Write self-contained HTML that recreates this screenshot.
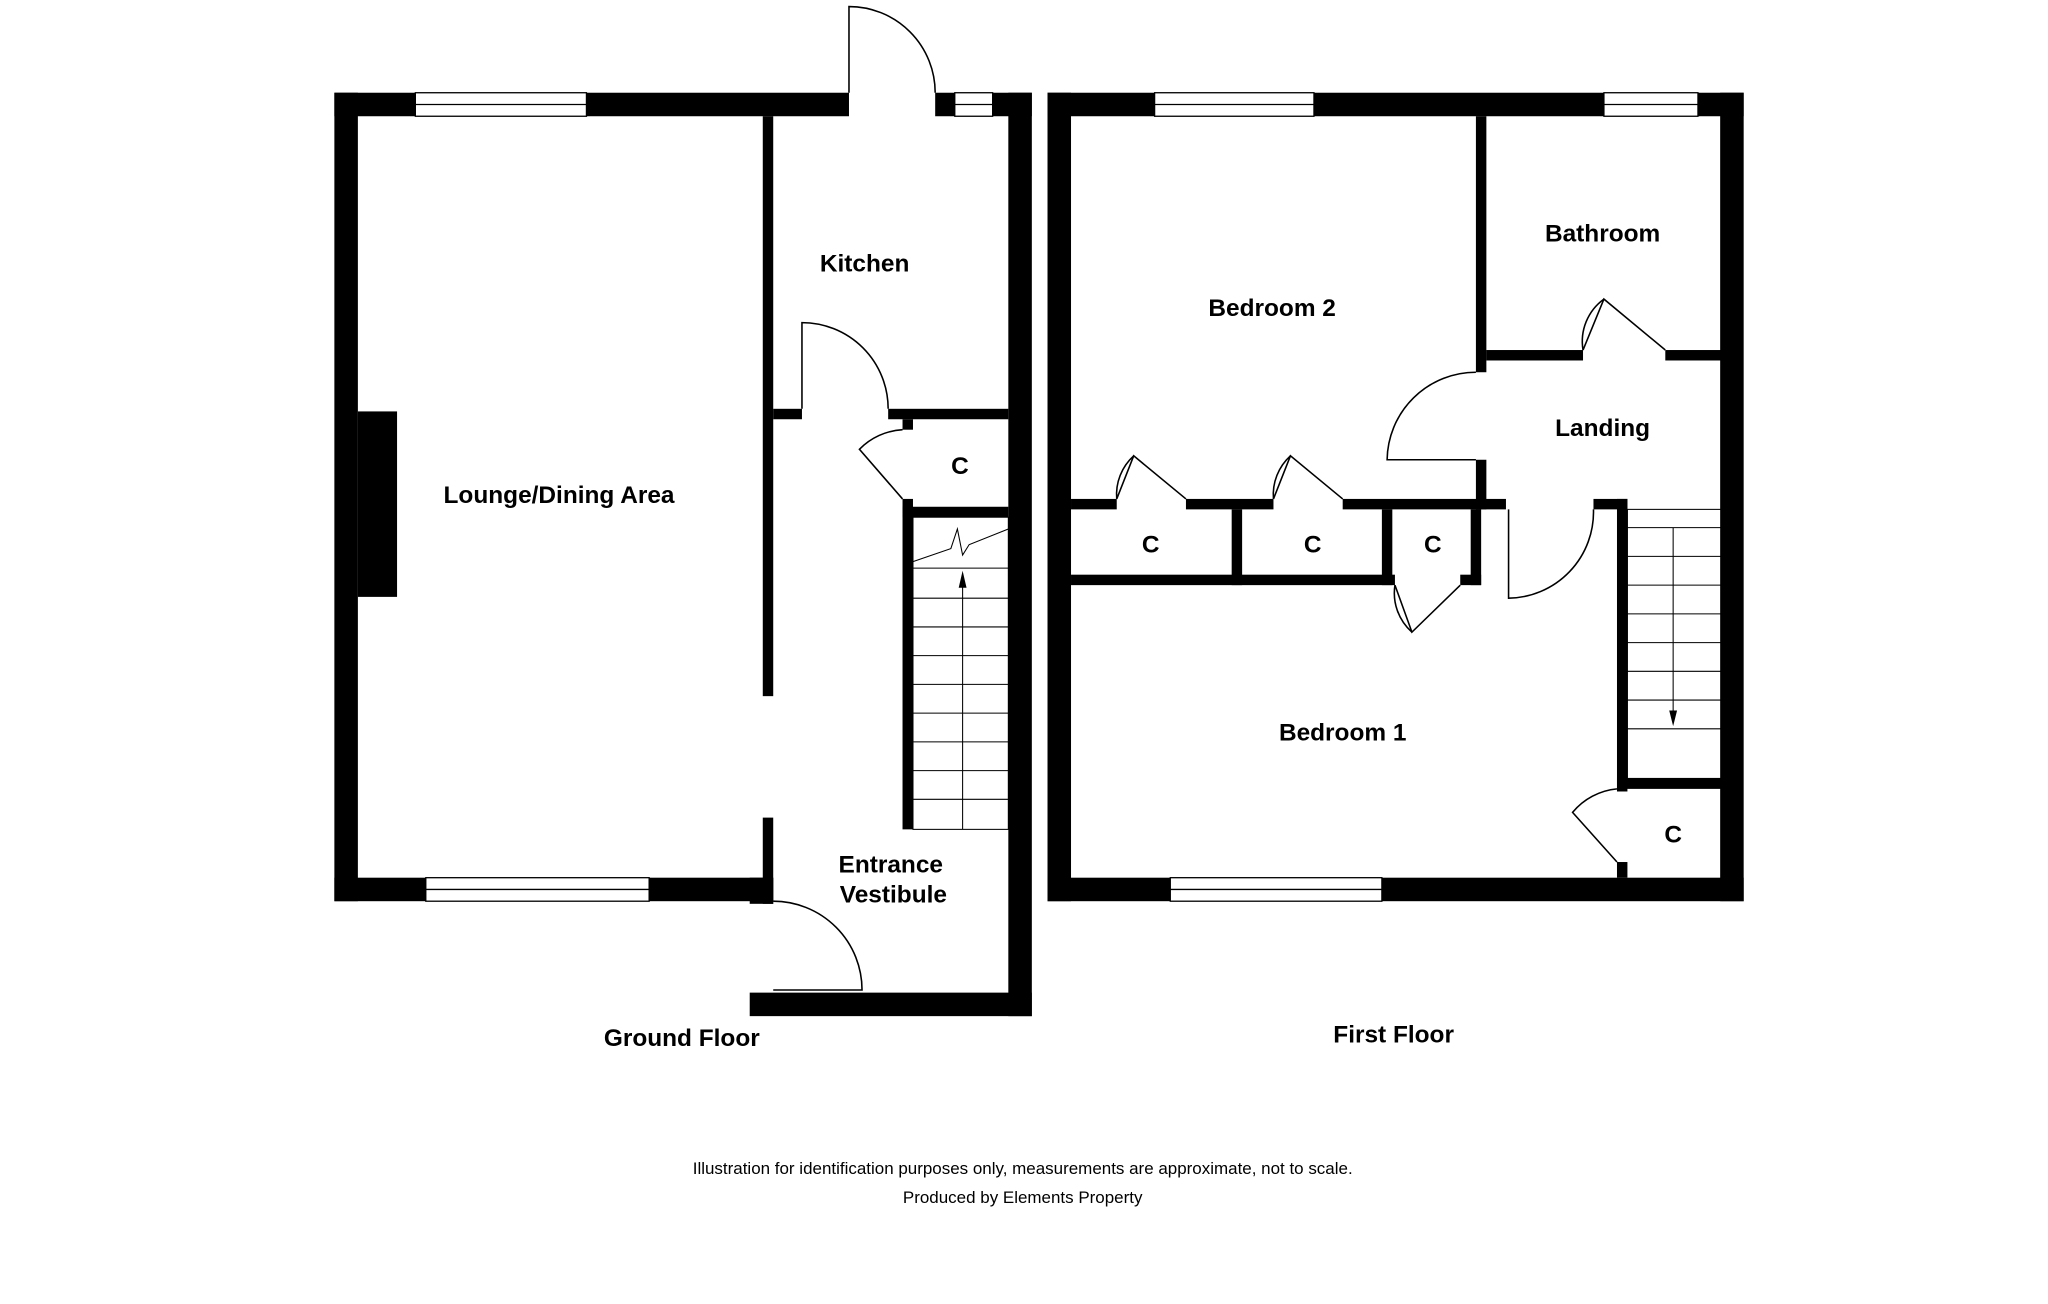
<!DOCTYPE html>
<html><head><meta charset="utf-8"><style>
html,body{margin:0;padding:0;background:#fff;}
svg{display:block;}
text{font-family:"Liberation Sans",Arial,sans-serif;font-weight:bold;font-size:18.7px;fill:#000;text-anchor:middle;}
.s{font-weight:normal;font-size:13px;}
</style></head><body>
<svg width="2048" height="1304" viewBox="0 0 1568 998.4" preserveAspectRatio="none" xmlns="http://www.w3.org/2000/svg">
<g fill="#000">
<rect x="256" y="71" width="394" height="18"/>
<rect x="716" y="71" width="74" height="18"/>
<rect x="256" y="71" width="18" height="619"/>
<rect x="256" y="672" width="336" height="18"/>
<rect x="772" y="71" width="18" height="707"/>
<rect x="574" y="760" width="216" height="18"/>
<rect x="574" y="672" width="18" height="20"/>
<rect x="584" y="626" width="8" height="66"/>
<rect x="584" y="89" width="8" height="444"/>
<rect x="592" y="313" width="22" height="8"/>
<rect x="680" y="313" width="92" height="8"/>
<rect x="691" y="321" width="8" height="8"/>
<rect x="691" y="382" width="8" height="253"/>
<rect x="691" y="388" width="81" height="8"/>
<rect x="274" y="315" width="30" height="142"/>
<rect x="802" y="71" width="533" height="18"/>
<rect x="802" y="71" width="18" height="619"/>
<rect x="1317" y="71" width="18" height="619"/>
<rect x="802" y="672" width="533" height="18"/>
<rect x="1130" y="89" width="8" height="196"/>
<rect x="1138" y="268" width="74" height="8"/>
<rect x="1275" y="268" width="43" height="8"/>
<rect x="1130" y="352" width="8" height="38"/>
<rect x="820" y="382" width="35" height="8"/>
<rect x="908" y="382" width="67" height="8"/>
<rect x="1028" y="382" width="125" height="8"/>
<rect x="820" y="440" width="248" height="8"/>
<rect x="943" y="390" width="8" height="58"/>
<rect x="1058" y="390" width="8" height="58"/>
<rect x="1126" y="390" width="8" height="58"/>
<rect x="1118" y="440" width="16" height="8"/>
<rect x="1220" y="382" width="26" height="8"/>
<rect x="1238" y="382" width="8" height="224"/>
<rect x="1238" y="596" width="80" height="8"/>
<rect x="1238" y="660" width="8" height="12"/>
</g>
<g fill="#fff" stroke="#000" stroke-width="1">
<rect x="318" y="71" width="131" height="18"/>
<rect x="731" y="71" width="29" height="18"/>
<rect x="326" y="672" width="171" height="18"/>
<rect x="884" y="71" width="122" height="18"/>
<rect x="1228" y="71" width="72" height="18"/>
<rect x="896" y="672" width="162" height="18"/>
</g>
<g stroke="#000" stroke-width="1">
<line x1="318" y1="80" x2="449" y2="80"/><line x1="731" y1="80" x2="760" y2="80"/>
<line x1="326" y1="681" x2="497" y2="681"/><line x1="884" y1="80" x2="1006" y2="80"/>
<line x1="1228" y1="80" x2="1300" y2="80"/><line x1="896" y1="681" x2="1058" y2="681"/>
</g>
<g fill="none" stroke="#000" stroke-width="1.2">
<path d="M650 71 V5 A66 66 0 0 1 716 71"/>
<path d="M614 313 V247 A66 66 0 0 1 680 313"/>
<path d="M592 758 H660 A68 68 0 0 0 592 690"/>
<path d="M691 382 L658 344 A50 50 0 0 1 691 329"/>
<path d="M855 382 L868 349 L908 382"/><path d="M855 382 A40 40 0 0 1 868 349"/>
<path d="M975 382 L988 349 L1028 382"/><path d="M975 382 A40 40 0 0 1 988 349"/>
<path d="M1068 448 L1081 484 L1118 448"/><path d="M1068 448 A40 40 0 0 0 1081 484"/>
<path d="M1212 268 L1228 229 L1275 268"/><path d="M1212 268 A40 40 0 0 1 1228 229"/>
<path d="M1130 285 A68 68 0 0 0 1062 352 H1130"/>
<path d="M1155 390 V458 A66 66 0 0 0 1220 390"/>
<path d="M1238 660 L1204 622 A50 50 0 0 1 1238 604"/>
</g>
<g fill="none" stroke="#000" stroke-width="0.8">
<rect x="699" y="396" width="73" height="239"/>
<line x1="699" y1="435" x2="772" y2="435"/><line x1="699" y1="458" x2="772" y2="458"/>
<line x1="699" y1="480" x2="772" y2="480"/><line x1="699" y1="502" x2="772" y2="502"/>
<line x1="699" y1="524" x2="772" y2="524"/><line x1="699" y1="546" x2="772" y2="546"/>
<line x1="699" y1="568" x2="772" y2="568"/><line x1="699" y1="590" x2="772" y2="590"/>
<line x1="699" y1="612" x2="772" y2="612"/>
<path d="M699 430 L728 420 L733 405 L737 425 L742 417 L772 405"/>
<line x1="737" y1="440" x2="737" y2="635"/>
<rect x="1246" y="390" width="72" height="206"/>
<line x1="1246" y1="404" x2="1318" y2="404"/><line x1="1246" y1="426" x2="1318" y2="426"/>
<line x1="1246" y1="448" x2="1318" y2="448"/><line x1="1246" y1="470" x2="1318" y2="470"/>
<line x1="1246" y1="492" x2="1318" y2="492"/><line x1="1246" y1="514" x2="1318" y2="514"/>
<line x1="1246" y1="536" x2="1318" y2="536"/><line x1="1246" y1="558" x2="1318" y2="558"/>
<line x1="1281" y1="404" x2="1281" y2="548"/>
</g>
<polygon points="737,437 734,450 740,450" fill="#000"/>
<polygon points="1281,556 1278,544 1284,544" fill="#000"/>
<text x="662" y="208">Kitchen</text>
<text x="428" y="385">Lounge/Dining Area</text>
<text x="735" y="363">C</text>
<text x="682" y="668">Entrance</text>
<text x="684" y="691">Vestibule</text>
<text x="522" y="801">Ground Floor</text>
<text x="974" y="242">Bedroom 2</text>
<text x="1227" y="185">Bathroom</text>
<text x="1227" y="334">Landing</text>
<text x="881" y="423">C</text>
<text x="1005" y="423">C</text>
<text x="1097" y="423">C</text>
<text x="1028" y="567">Bedroom 1</text>
<text x="1281" y="645">C</text>
<text x="1067" y="798">First Floor</text>
<text class="s" x="783" y="899">Illustration for identification purposes only, measurements are approximate, not to scale.</text>
<text class="s" x="783" y="921">Produced by Elements Property</text>
</svg>
</body></html>
